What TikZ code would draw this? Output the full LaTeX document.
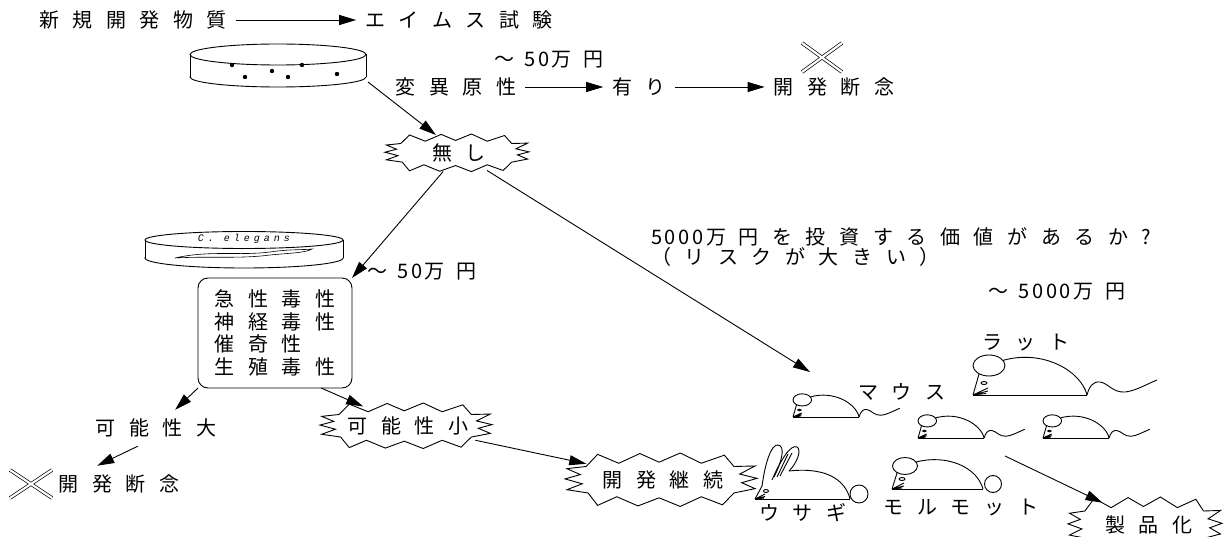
\documentclass[tikz,border=0pt]{standalone}
\usepackage{fontspec}
\usetikzlibrary{arrows.meta,shapes.geometric}
\newfontfamily\jp[LetterSpace=68]{Noto Sans CJK JP}
\newfontfamily\jpn[LetterSpace=14]{Noto Sans CJK JP}
\newfontfamily\latn[LetterSpace=40]{Liberation Mono}
\tikzset{
    lbl/.style={font=\jp\fontsize{20}{22.7}\selectfont, inner sep=3pt, outer sep=6pt, xshift=6pt},
    arr/.style={-{Triangle[length=17pt,width=10pt]}},
    dbl/.style={double, double distance=2.2pt, line width=0.7pt},
    burstnode/.style args={#1/#2}{ellipse, inner sep=0pt, outer sep=0pt, minimum width=2*#1, minimum height=2*#2},
    % jagged balloon, half width / half height
    pics/burst/.style args={#1/#2}{code={
      \draw[fill=white, xscale=#1, yscale=#2]
        (-0.78,-0.5) -- (-0.66,-0.95) -- (-0.44,-0.62) -- (-0.22,-0.98) -- (-0.02,-0.66)
        -- (0.2,-1) -- (0.42,-0.62) -- (0.66,-0.92) -- (0.76,-0.5)
        -- (0.98,-0.52) -- (0.82,-0.22) -- (1,-0.06) -- (0.84,0.1) -- (0.98,0.32) -- (0.76,0.48)
        -- (0.64,0.92) -- (0.42,0.62) -- (0.2,0.98) -- (-0.02,0.66) -- (-0.24,0.96)
        -- (-0.46,0.62) -- (-0.66,0.94) -- (-0.76,0.48)
        -- (-0.98,0.36) -- (-0.82,0.14) -- (-1,-0.04) -- (-0.84,-0.2) -- (-0.98,-0.42) -- cycle;
    }},
    % rat / mouse, nose at origin
    pics/mouse/.style={code={
      \draw (0,0) -- (114,0);
      \draw (16,-29.5) ellipse (16 and 10.5);
      \draw (0,0) -- (6,-21);
      \draw (11,-12) ellipse (3 and 1.5);
      \draw (0,0) -- (15,-7) (0,0) -- (15,-4) (0,0) -- (13,-1.5);
      \draw (30,-34.6) .. controls (70,-46) and (108,-24) .. (114,0);
      \draw (114,0) .. controls (116,-8) and (120,-14) .. (127,-13)
        .. controls (135,-12) and (140,-2) .. (152,-3)
        .. controls (162,-4) and (172,-10) .. (184,-15);
    }},
    pics/guinea/.style={code={
      \draw (0,0) -- (91,0);
      \draw (13,-23) ellipse (12.5 and 8.5);
      \draw (0,0) -- (5,-16);
      \draw (10,-10) ellipse (3 and 1.5);
      \draw (0,0) -- (12,-6) (0,0) -- (12,-3) (0,0) -- (10,-1);
      \draw (24,-27) .. controls (55,-35) and (85,-22) .. (91,0);
      \draw (101,-5) circle (8.5);
    }},
    pics/rabbit/.style={code={
      \draw (0,0) -- (95,0);
      \draw (0,0) -- (7,-13);
      \draw (7,-13) .. controls (10,-35) and (16,-55) .. (23,-54)
        .. controls (30,-53) and (28,-40) .. (19,-22);
      \draw (17,-19) .. controls (26,-40) and (36,-55) .. (42,-52)
        .. controls (47,-49) and (42,-36) .. (34,-28);
      \draw (22,-22) -- (33,-45) (25,-23) -- (37,-46);
      \draw (34,-28) .. controls (70,-32) and (90,-20) .. (95,0);
      \draw (104,-5) circle (9);
      \draw (11,-8) ellipse (2.5 and 1.5);
      \draw (0,0) -- (10,-5) (0,0) -- (10,-2.5) (0,0) -- (9,-1);
    }},
}

\begin{document}
\begin{tikzpicture}[x=1pt,y=-1pt,line width=0.9pt]
\useasboundingbox (0,0) rectangle (1229,537);

% Ames test
\node[lbl] (np) at (127,20) {新規開発物質};
\node[lbl] (ames) at (453,20) {エイムス試験};
\draw[arr] (np) -- (ames);

% petri dish with colonies
\draw (278,77) ellipse (88 and 10);
\fill[white] (190,54.5) rectangle (366,77);
\draw[fill=white] (278,54.5) ellipse (88 and 10.5);
\draw (190,54.5) -- (190,77) (366,54.5) -- (366,77);
\foreach \p in {(232,65),(302,65),(245,77),(272,71),(288,77),(337,74)}
    \fill \p circle (2.2);
\coordinate (d1) at (368,82);

\node[lbl] (cost1) at (543,60) {～\hspace{10pt}{\jpn 50万}\hspace{12pt}円};
\node[lbl] (mut) at (450,87) {変異原性};
\node[lbl] (yes) at (633,87) {有り};
\node[lbl] (stop1) at (828,87) {開発断念};
\draw[arr] (mut) -- (yes);
\draw[arr] (yes) -- (stop1);
\draw[dbl] (802,43) -- (842,72) (802,72) -- (842,43);

% negative
\pic at (457,153) {burst=72/19};
\node[lbl, burstnode=72/19] (none) at (453,153) {無し};
\draw[arr] (d1) -- (none);

% C. elegans plate
\draw (244,258) ellipse (99 and 10);
\fill[white] (145,240) rectangle (343,258);
\draw[fill=white] (244,240) ellipse (99 and 8.5);
\draw (145,240) -- (145,258) (343,240) -- (343,258);
\node[font=\latn\itshape\fontsize{10}{11}\selectfont, inner sep=1pt] (ce) at (244,239) {C.~elegans};
\draw[line width=0.6pt] (175,258) .. controls (210,250) and (240,256) .. (270,252)
    .. controls (290,249) and (305,250) .. (312,249)
    .. controls (305,253) and (290,253) .. (270,255)
    .. controls (240,259) and (210,256) .. (175,258);

\node[lbl, draw, rounded corners=10pt, minimum width=154, minimum height=110, align=left, outer sep=0pt, xshift=-6pt] (tox) at (275,333)
    {急性毒性\\神経毒性\\催奇性\\生殖毒性};
\node[lbl] (cost2) at (416,272) {～\hspace{10pt}{\jpn 50万}\hspace{12pt}円};
\draw[arr] (none) -- (tox.north east);

% results on C. elegans
\node[lbl] (large) at (150,428) {可能性大};
\node[lbl] (stop2) at (113,484) {開発断念};
\draw[dbl] (10,470) -- (52,498) (10,498) -- (52,470);
\draw[arr] (tox.south west) -- (large);
\draw[arr] (large.225) -- (stop2.140);

\pic at (406,426) {burst=86/23};
\node[lbl, burstnode=86/23] (small) at (402,426) {可能性小};
\draw[arr] (tox.-50) -- (small);

\pic at (661,480) {burst=96/27};
\node[lbl, burstnode=96/27] (cont) at (657,480) {開発継続};
\draw[arr] (small) -- (cont);

% animal tests
\node[lbl, anchor=west, align=left, font=\jp\fontsize{20}{20}\selectfont, outer sep=0pt, xshift=-6pt] (ask) at (648,247)
    {{\jpn 5000万}\hspace{12pt}円を投資する価値があるか?\\（リスクが大きい）};
\node[lbl] (cost3) at (1051,292) {～\hspace{10pt}{\jpn 5000万}\hspace{12pt}円};
\coordinate (herd) at (810,372);
\draw[arr] (none) -- (herd);

\pic at (973,395) {mouse};
\node[lbl] (rat) at (1020,343) {ラット};
\pic[scale=0.58] at (793,417) {mouse};
\node[lbl] (mus) at (896,392) {マウス};
\pic[scale=0.58] at (918,438) {mouse};
\pic[scale=0.58] at (1043,438) {mouse};
\pic at (892,489) {guinea};
\node[lbl] (gpig) at (955,508) {モルモット};
\pic at (755,499) {rabbit};
\node[lbl] (rab) at (797,513) {ウサギ};

\pic at (1145,525) {burst=77/28};
\node[lbl, burstnode=77/28] (prod) at (1143,525) {製品化};
\coordinate (gp) at (1005,456);
\draw[arr] (gp) -- (prod);
\end{tikzpicture}
\end{document}
